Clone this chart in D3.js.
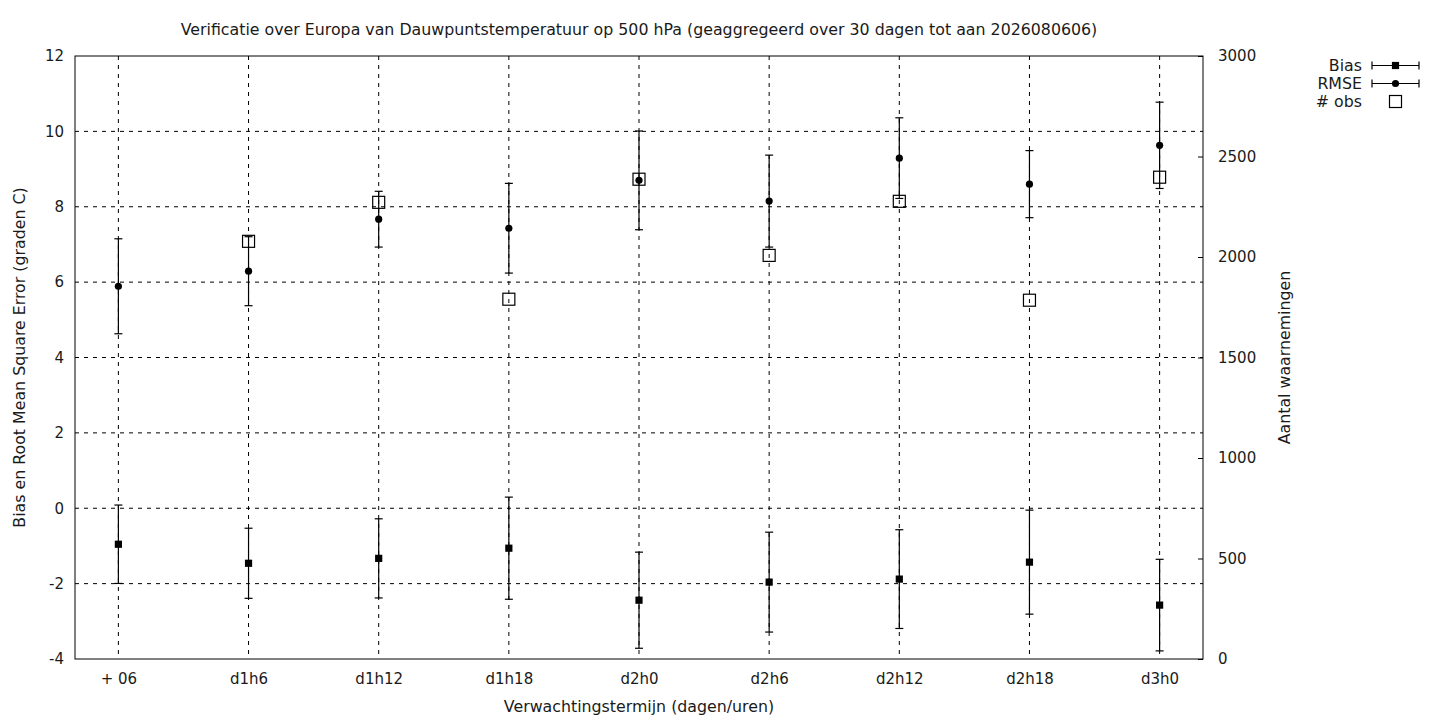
<!DOCTYPE html>
<html><head><meta charset="utf-8">
<script src="https://cdn.jsdelivr.net/npm/d3@7"></script>
<style>
html,body{margin:0;padding:0;background:#fff;}
text{font-family:"DejaVu Sans",sans-serif;font-size:15.8px;fill:#1a1a1a;}
</style></head>
<body><svg id="c" width="1440" height="720"></svg>
<script>
const categories = ["+ 06","d1h6","d1h12","d1h18","d2h0","d2h6","d2h12","d2h18","d3h0"];
const biasValues = [-0.955,-1.46,-1.33,-1.06,-2.44,-1.96,-1.88,-1.43,-2.57];
const biasErr    = [1.04,0.93,1.05,1.355,1.275,1.325,1.31,1.38,1.215];
const rmseValues = [5.89,6.29,7.67,7.43,8.70,8.15,9.29,8.60,9.63];
const rmseErr    = [1.26,0.915,0.74,1.19,1.31,1.22,1.07,0.89,1.145];
const obsValues  = [null,2078,2272,1790,2387,2008,2277,1785,2397];
const yTicks = [-4,-2,0,2,4,6,8,10,12];
const y2Ticks = [0,500,1000,1500,2000,2500,3000];
const titleText = "Verificatie over Europa van Dauwpuntstemperatuur op 500 hPa (geaggregeerd over 30 dagen tot aan 2026080606)";
const xLabel = "Verwachtingstermijn (dagen/uren)";
const yLabel = "Bias en Root Mean Square Error (graden C)";
const y2Label = "Aantal waarnemingen";
const legendLabels = ["Bias","RMSE","# obs"];

const svg = d3.select("#c");
const L=75, R=1203, T=56, B=659;
const x = d3.scaleLinear().domain([-1/3, categories.length-1+1/3]).range([L,R]);
const y = d3.scaleLinear().domain([-4,12]).range([B,T]);
const y2 = d3.scaleLinear().domain([0,3000]).range([B,T]);

const dash = "4,5";
// grid
svg.append("g").selectAll("line").data(yTicks.slice(1,-1)).join("line")
  .attr("x1",L).attr("x2",R).attr("y1",d=>y(d)).attr("y2",d=>y(d))
  .attr("stroke","#000").attr("stroke-width",1).attr("stroke-dasharray",dash);
svg.append("g").selectAll("line").data(categories).join("line")
  .attr("x1",(d,i)=>x(i)).attr("x2",(d,i)=>x(i)).attr("y1",T).attr("y2",B)
  .attr("stroke","#000").attr("stroke-width",1).attr("stroke-dasharray",dash);

// axes
const yAx = d3.axisLeft(y).tickValues(yTicks).tickFormat(d=>String(d)).tickSize(0).tickPadding(11);
const gy = svg.append("g").attr("transform",`translate(${L},0)`).call(yAx);
const y2Ax = d3.axisRight(y2).tickValues(y2Ticks).tickFormat(d=>String(d)).tickSize(-5).tickPadding(15);
const gy2 = svg.append("g").attr("transform",`translate(${R},0)`).call(y2Ax);
const xAx = d3.axisBottom(x).tickValues(d3.range(categories.length)).tickFormat(i=>categories[i]).tickSize(0).tickPadding(14);
const gx = svg.append("g").attr("transform",`translate(0,${B})`).call(xAx);
[gy,gy2,gx].forEach(g=>{
  g.select(".domain").remove();
  g.selectAll("text").attr("fill","#1a1a1a").style("font-size","15px").style("font-family","DejaVu Sans, sans-serif");
  g.selectAll("line").attr("stroke","#000");
});
gy.selectAll("text").attr("dy","0.32em");
gy2.selectAll("text").attr("dy","0.32em");

// border
svg.append("rect").attr("x",L).attr("y",T).attr("width",R-L).attr("height",B-T)
  .attr("fill","none").attr("stroke","#000").attr("stroke-width",1);

// error bars
function errbars(vals, errs){
  const g = svg.append("g");
  const cap = 4;
  vals.forEach((v,i)=>{
    const cx = x(i), top = y(v+errs[i]), bot = y(v-errs[i]);
    g.append("line").attr("x1",cx).attr("x2",cx).attr("y1",top).attr("y2",bot).attr("stroke","#000").attr("stroke-width",1.2);
    g.append("line").attr("x1",cx-cap).attr("x2",cx+cap).attr("y1",top).attr("y2",top).attr("stroke","#000").attr("stroke-width",1.2);
    g.append("line").attr("x1",cx-cap).attr("x2",cx+cap).attr("y1",bot).attr("y2",bot).attr("stroke","#000").attr("stroke-width",1.2);
  });
  return g;
}
errbars(rmseValues, rmseErr);
errbars(biasValues, biasErr);

svg.append("g").selectAll("circle").data(rmseValues).join("circle")
  .attr("cx",(d,i)=>x(i)).attr("cy",d=>y(d)).attr("r",3.6).attr("fill","#000");
svg.append("g").selectAll("rect").data(biasValues).join("rect")
  .attr("x",(d,i)=>x(i)-3.6).attr("y",d=>y(d)-3.6).attr("width",7.2).attr("height",7.2).attr("fill","#000");
const obsData = obsValues.map((v,i)=>({v,i})).filter(d=>d.v!==null);
svg.append("g").selectAll("rect").data(obsData).join("rect")
  .attr("x",d=>x(d.i)-6).attr("y",d=>y2(d.v)-6).attr("width",12).attr("height",12)
  .attr("fill","none").attr("stroke","#000").attr("stroke-width",1.2);

// titles
svg.append("text").attr("x",(L+R)/2).attr("y",35).attr("text-anchor","middle").text(titleText);
svg.append("text").attr("x",(L+R)/2).attr("y",712).attr("text-anchor","middle").text(xLabel);
svg.append("text").attr("transform",`translate(25,${(T+B)/2}) rotate(-90)`).attr("text-anchor","middle").text(yLabel);
svg.append("text").attr("transform",`translate(1290,${(T+B)/2}) rotate(-90)`).attr("text-anchor","middle").text(y2Label);

// legend
const lg = svg.append("g");
const ly = [65.5,83.5,101.5];
legendLabels.forEach((t,k)=>{
  lg.append("text").attr("x",1362).attr("y",ly[k]).attr("dy","0.35em").attr("text-anchor","end").text(t);
});
[0,1].forEach(k=>{
  lg.append("line").attr("x1",1372).attr("x2",1419).attr("y1",ly[k]).attr("y2",ly[k]).attr("stroke","#000").attr("stroke-width",1.2);
  lg.append("line").attr("x1",1372).attr("x2",1372).attr("y1",ly[k]-4).attr("y2",ly[k]+4).attr("stroke","#000").attr("stroke-width",1.2);
  lg.append("line").attr("x1",1419).attr("x2",1419).attr("y1",ly[k]-4).attr("y2",ly[k]+4).attr("stroke","#000").attr("stroke-width",1.2);
});
lg.append("rect").attr("x",1395.5-3.6).attr("y",ly[0]-3.6).attr("width",7.2).attr("height",7.2).attr("fill","#000");
lg.append("circle").attr("cx",1395.5).attr("cy",ly[1]).attr("r",3.6).attr("fill","#000");
lg.append("rect").attr("x",1395.5-6).attr("y",ly[2]-6).attr("width",12).attr("height",12).attr("fill","none").attr("stroke","#000").attr("stroke-width",1.2);
</script></body></html>
